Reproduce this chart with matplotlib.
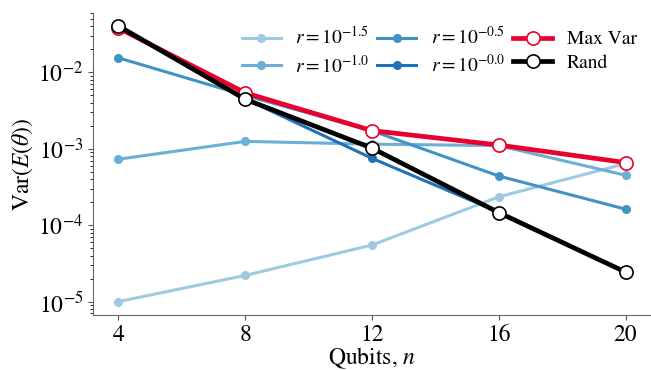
import matplotlib
matplotlib.use("Agg")
import matplotlib.pyplot as plt

plt.rcParams['font.family'] = ['STIXGeneral', 'DejaVu Serif']
plt.rcParams['mathtext.fontset'] = 'stix'

qubits = [4, 8, 12, 16, 20]

# variance per r value
var_r15 = [1.0e-5, 2.2e-5, 5.5e-5, 2.35e-4, 6.4e-4]
var_r10 = [7.3e-4, 1.25e-3, 1.15e-3, 1.1e-3, 4.5e-4]
var_r05 = [1.55e-2, 5.0e-3, 1.72e-3, 4.4e-4, 1.62e-4]
var_r00 = [4.0e-2, 4.5e-3, 7.5e-4, 1.48e-4, 2.45e-5]
var_max = [3.8e-2, 5.4e-3, 1.73e-3, 1.12e-3, 6.6e-4]
var_rand = [4.05e-2, 4.45e-3, 1.02e-3, 1.46e-4, 2.43e-5]

blue_labels = [r'$r=10^{-1.5}$', r'$r=10^{-1.0}$', r'$r=10^{-0.5}$', r'$r=10^{-0.0}$']
blue_colors = ['#9ecae1', '#6baed6', '#4292c6', '#2171b5']

fig = plt.figure(figsize=(6.51, 3.70), dpi=100)
ax = fig.add_axes([0.143, 0.149, 0.857, 0.816])

for vals, lab, col in zip([var_r15, var_r10, var_r05, var_r00], blue_labels, blue_colors):
    ax.plot(qubits, vals, '-o', color=col, lw=2.2, ms=5.5, label=lab)

ax.plot(qubits, var_max, '-o', color='#e8002e', lw=3.4, ms=9.5,
        mfc='white', mec='#e8002e', mew=1.2, label='Max Var')
ax.plot(qubits, var_rand, '-o', color='black', lw=3.4, ms=9.5,
        mfc='white', mec='black', mew=1.2, label='Rand')

ax.set_yscale('log')
ax.set_ylim(6.7e-6, 0.06)
ax.set_xlim(3.2, 20.8)
ax.set_xticks(qubits)
ax.set_xlabel(r'Qubits, $n$', fontsize=17, labelpad=0)
ax.set_ylabel(r'Var$(E(\theta))$', fontsize=17, labelpad=2)
ax.tick_params(labelsize=17, colors='#555555', labelcolor='black')
for s in ['top', 'right']:
    ax.spines[s].set_visible(False)
for s in ['left', 'bottom']:
    ax.spines[s].set_color('#666666')

ax.legend(ncol=3, loc='upper right', bbox_to_anchor=(0.995, 0.995), frameon=False,
          fontsize=14, columnspacing=0.4, handlelength=2.0, handletextpad=0.75,
          labelspacing=0.3, borderaxespad=0.2)

fig.savefig('out.png', dpi=100)
